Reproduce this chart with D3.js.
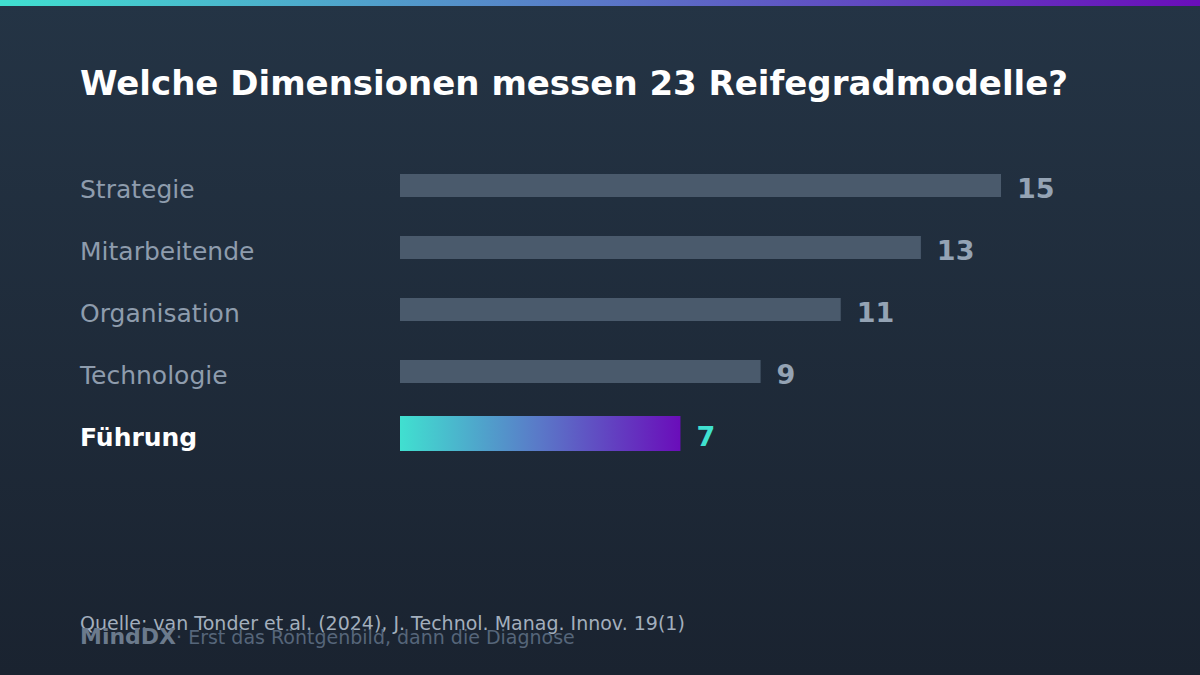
<!DOCTYPE html>
<html>
<head>
<meta charset="utf-8">
<script src="https://cdn.jsdelivr.net/npm/d3@7"></script>
<style>
  html, body { margin: 0; padding: 0; background: #1b2532; }
  svg { display: block; font-family: "DejaVu Sans", sans-serif; }
</style>
</head>
<body>
<svg width="1200" height="675"></svg>
<script>
// data
var categories = ["Strategie", "Mitarbeitende", "Organisation", "Technologie", "Führung"];
var counts = [15, 13, 11, 9, 7];
var highlight = "Führung";

var data = categories.map(function(c, i) { return { name: c, value: counts[i] }; });

var svg = d3.select("svg");
var width = +svg.attr("width");
var height = +svg.attr("height");

var defs = svg.append("defs");

// background gradient
var bg = defs.append("linearGradient").attr("id", "bg")
  .attr("x1", 0).attr("y1", 0).attr("x2", 0).attr("y2", 1);
bg.append("stop").attr("offset", "0%").attr("stop-color", "#243445");
bg.append("stop").attr("offset", "100%").attr("stop-color", "#1a2330");

// accent gradient (top strip + highlighted bar)
var acc = defs.append("linearGradient").attr("id", "accent")
  .attr("x1", 0).attr("y1", 0).attr("x2", 1).attr("y2", 0);
acc.append("stop").attr("offset", "0%").attr("stop-color", "#40e0d0");
acc.append("stop").attr("offset", "50%").attr("stop-color", "#5a78c8");
acc.append("stop").attr("offset", "100%").attr("stop-color", "#6a0dba");

svg.append("rect").attr("width", width).attr("height", height).attr("fill", "url(#bg)");
svg.append("rect").attr("width", width).attr("height", 6).attr("fill", "url(#accent)");

// title
svg.append("text")
  .attr("x", 80)
  .attr("y", 95)
  .attr("font-size", "34px")
  .attr("font-weight", "bold")
  .attr("fill", "#ffffff")
  .text("Welche Dimensionen messen 23 Reifegradmodelle?");

// scales
var x = d3.scaleLinear().domain([0, 15]).range([400, 1001]);
var y = d3.scaleBand().domain(categories).range([154.5, 464.5]);

function center(d) { return y(d.name) + y.bandwidth() / 2; }
function isHi(d) { return d.name === highlight; }

var rows = svg.append("g").selectAll(".row")
  .data(data)
  .enter().append("g")
  .attr("class", "row");

// category labels
rows.append("text")
  .attr("x", 80)
  .attr("y", function(d) { return center(d) + 12.5; })
  .attr("font-size", "25px")
  .attr("font-weight", function(d) { return isHi(d) ? "bold" : "normal"; })
  .attr("fill", function(d) { return isHi(d) ? "#ffffff" : "#8e9cad"; })
  .text(function(d) { return d.name; });

// bars
rows.append("rect")
  .attr("x", x(0))
  .attr("y", function(d) { return center(d) - (isHi(d) ? 17.5 : 11.5); })
  .attr("height", function(d) { return isHi(d) ? 35 : 23; })
  .attr("width", function(d) { return x(d.value) - x(0); })
  .attr("fill", function(d) { return isHi(d) ? "url(#accent)" : "#4a5a6c"; });

// value labels
rows.append("text")
  .attr("x", function(d) { return x(d.value) + 16; })
  .attr("y", function(d) { return center(d) + 12.5; })
  .attr("font-size", "27px")
  .attr("font-weight", "bold")
  .attr("fill", function(d) { return isHi(d) ? "#40e0d0" : "#94a3b4"; })
  .text(function(d) { return d.value; });

// footer
svg.append("text")
  .attr("x", 80)
  .attr("y", 630)
  .attr("font-size", "19px")
  .attr("fill", "#a3afbd")
  .text("Quelle: van Tonder et al. (2024), J. Technol. Manag. Innov. 19(1)");

var brand = svg.append("text")
  .attr("x", 80)
  .attr("y", 644)
  .attr("font-size", "19px");
brand.append("tspan")
  .attr("font-size", "22px")
  .attr("font-weight", "bold")
  .attr("fill", "#6b7a8c")
  .text("MindDX");
brand.append("tspan")
  .attr("fill", "#56667a")
  .text("· Erst das Röntgenbild, dann die Diagnose");
</script>
</body>
</html>
